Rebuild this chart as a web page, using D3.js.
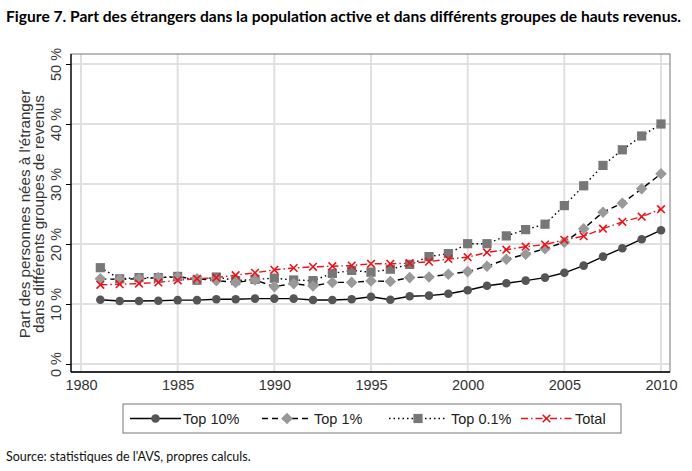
<!DOCTYPE html>
<html><head><meta charset="utf-8">
<script src="https://cdn.jsdelivr.net/npm/d3@7"></script>
<style>body{margin:0;background:#fff}svg{display:block}</style>
</head><body>
<svg id="c" width="692" height="471"></svg>
<script>
const years = d3.range(1981, 2011);
const top10 = [10.7,10.5,10.5,10.55,10.65,10.65,10.8,10.8,10.9,10.9,10.9,10.67,10.67,10.8,11.2,10.7,11.3,11.4,11.7,12.3,13.05,13.45,13.9,14.4,15.2,16.4,17.9,19.3,20.8,22.3];
const top1 = [14.2,14.1,14.2,14.4,14.5,14.2,13.9,13.6,14.0,12.9,13.4,13.0,13.6,13.6,13.85,13.75,14.4,14.5,14.95,15.4,16.3,17.45,18.3,19.2,20.3,22.55,25.3,26.8,29.2,31.7];
const top01 = [16.05,14.2,14.4,14.4,14.6,13.95,14.5,13.9,14.1,14.3,14.0,13.9,15.1,15.6,15.3,15.8,16.6,17.9,18.4,20.05,20.05,21.35,22.4,23.3,26.4,29.7,33.1,35.7,38.0,40.0];
const total = [13.2,13.3,13.4,13.6,13.95,14.2,14.4,14.8,15.2,15.7,16.0,16.2,16.3,16.4,16.7,16.7,16.8,17.05,17.5,17.8,18.6,19.05,19.55,19.9,20.7,21.3,22.55,23.7,24.55,25.8];
const xTicks = [1980,1985,1990,1995,2000,2005,2010];
const yTicks = [0,10,20,30,40,50];
const seriesNames = ["Top 10%","Top 1%","Top 0.1%","Total"];

const svg = d3.select("#c");
const x = d3.scaleLinear().domain([1980,2010]).range([81,661]);
const y = d3.scaleLinear().domain([0,50]).range([364,64]);
const L=71,R=670,T=54,B=372;
const sans = "'Liberation Sans', Arial, sans-serif";

// title
svg.append("text").attr("x",6).attr("y",22)
  .attr("font-family","Lato, 'Open Sans', sans-serif").attr("font-weight","bold")
  .attr("font-size",15).attr("textLength",675).attr("lengthAdjust","spacingAndGlyphs")
  .attr("fill","#000").text("Figure 7. Part des étrangers dans la population active et dans différents groupes de hauts revenus.");

// grid
const g = svg.append("g");
g.selectAll(".gy").data(yTicks).enter().append("line")
  .attr("x1",L).attr("x2",R).attr("y1",d=>y(d)).attr("y2",d=>y(d))
  .attr("stroke","#e0e0e0").attr("stroke-width",2);
g.selectAll(".gx").data(xTicks).enter().append("line")
  .attr("x1",d=>x(d)).attr("x2",d=>x(d)).attr("y1",T).attr("y2",B)
  .attr("stroke","#e0e0e0").attr("stroke-width",2);
// frame
g.append("rect").attr("x",L).attr("y",T).attr("width",R-L).attr("height",B-T)
  .attr("fill","none").attr("stroke","#777").attr("stroke-width",1);
g.append("line").attr("x1",L).attr("x2",L).attr("y1",T).attr("y2",B).attr("stroke","#000").attr("stroke-width",1.3);
g.append("line").attr("x1",L).attr("x2",R).attr("y1",B).attr("y2",B).attr("stroke","#000").attr("stroke-width",1.3);

// y ticks
const yAxis = d3.axisLeft(y).tickValues(yTicks).tickSize(5).tickFormat(d=>d+" %");
const ya = svg.append("g").attr("transform",`translate(${L},0)`).call(yAxis);
ya.select(".domain").remove();
ya.selectAll(".tick line").attr("stroke","#000");
ya.selectAll(".tick text").attr("transform","rotate(-90)").attr("x",0).attr("y",-10)
  .attr("dy","0").attr("text-anchor","middle")
  .attr("font-family",sans).attr("font-size",14.5).attr("fill","#333");

// x ticks
const xAxis = d3.axisBottom(x).tickValues(xTicks).tickSize(0).tickFormat(d3.format("d"));
const xa = svg.append("g").attr("transform",`translate(0,${B})`).call(xAxis);
xa.select(".domain").remove();
xa.selectAll(".tick text").attr("y",8).attr("dy","0.71em")
  .attr("font-family",sans).attr("font-size",14.5).attr("fill","#333");

// y title
const yt = svg.append("text").attr("transform","translate(29.5,214) rotate(-90)")
  .attr("text-anchor","middle").attr("font-family",sans)
  .attr("font-size",15.2).attr("fill","#333");
yt.append("tspan").attr("x",0).attr("y",0).text("Part des personnes nées à l'étranger");
yt.append("tspan").attr("x",0).attr("y",14.5).text("dans différents groupes de revenus");

// series
const series = [
  {name:seriesNames[0], vals:top10, stroke:"#000", dash:null, marker:"circle", fill:"#555"},
  {name:seriesNames[1], vals:top1, stroke:"#000", dash:"6,4", marker:"diamond", fill:"#999"},
  {name:seriesNames[2], vals:top01, stroke:"#000", dash:"1.5,3", marker:"square", fill:"#777"},
  {name:seriesNames[3], vals:total, stroke:"#e8141b", dash:"7,3,1.5,3", marker:"x", fill:"#e8141b"}
];
const line = d3.line().x(d=>x(d[0])).y(d=>y(d[1]));
function drawMarker(sel, type, fill, cx, cy){
  if(type==="circle") sel.append("circle").attr("cx",cx).attr("cy",cy).attr("r",4.3).attr("fill",fill);
  else if(type==="square") sel.append("rect").attr("x",cx-4.6).attr("y",cy-4.6).attr("width",9.2).attr("height",9.2).attr("fill",fill);
  else if(type==="diamond") sel.append("path").attr("d",`M${cx},${cy-5.8}L${cx+5.8},${cy}L${cx},${cy+5.8}L${cx-5.8},${cy}Z`).attr("fill",fill);
  else sel.append("path").attr("d",`M${cx-3.8},${cy-3.8}L${cx+3.8},${cy+3.8}M${cx-3.8},${cy+3.8}L${cx+3.8},${cy-3.8}`).attr("stroke",fill).attr("stroke-width",1.6);
}
const order = [2,1,3,0];
order.forEach(i=>{
  const s = series[i];
  const pts = years.map((yr,k)=>[yr,s.vals[k]]);
  svg.append("path").attr("d",line(pts)).attr("fill","none").attr("stroke",s.stroke)
    .attr("stroke-width",1.4).attr("stroke-dasharray",s.dash);
});
order.forEach(i=>{
  const s = series[i];
  const mg = svg.append("g");
  years.forEach((yr,k)=>drawMarker(mg,s.marker,s.fill,x(yr),y(s.vals[k])));
});

// legend
const lg = svg.append("g");
lg.append("rect").attr("x",123).attr("y",404).attr("width",498).attr("height",29)
  .attr("fill","#fff").attr("stroke","#777").attr("stroke-width",1);
const legX = [[130,181,183],[262,312,314],[389,447,451],[521,572,575]];
series.forEach((s,i)=>{
  const [a,b,t] = legX[i];
  const ly = 418.5;
  lg.append("line").attr("x1",a).attr("x2",b).attr("y1",ly).attr("y2",ly).attr("stroke",s.stroke)
    .attr("stroke-width",1.4).attr("stroke-dasharray",s.dash);
  drawMarker(lg,s.marker,s.fill,(a+b)/2,ly);
  lg.append("text").attr("x",t).attr("y",ly).attr("dy","0.36em")
    .attr("font-family",sans).attr("font-size",14.5).attr("fill","#222").text(s.name);
});

// source
svg.append("text").attr("x",6).attr("y",461).attr("font-family","Lato, 'Open Sans', sans-serif")
  .attr("font-size",12.5).attr("fill","#111").text("Source: statistiques de l'AVS, propres calculs.");
</script>
</body></html>
